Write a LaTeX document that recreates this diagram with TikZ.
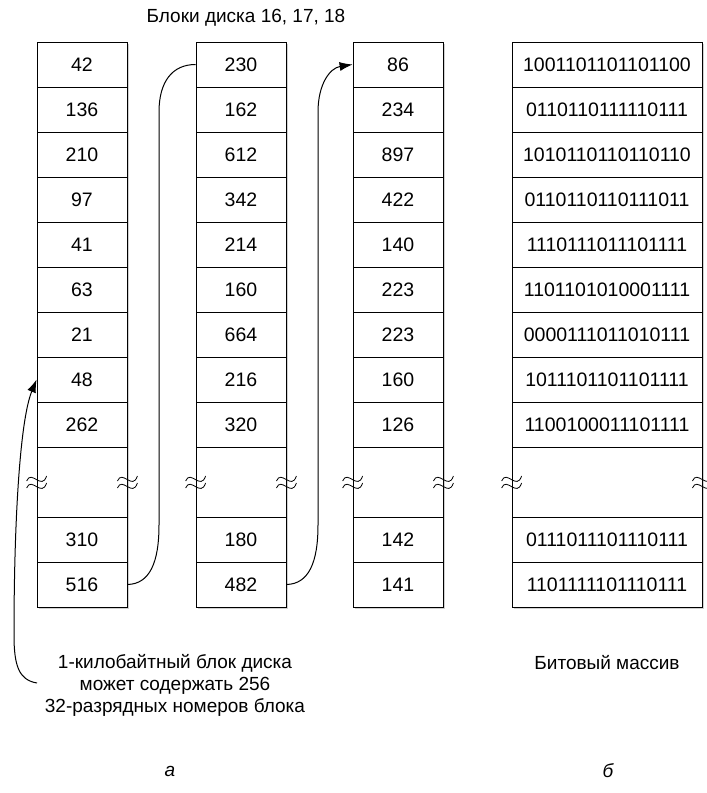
\documentclass[tikz,border=0pt]{standalone}
\usepackage{fontspec}
\setmainfont{Liberation Sans}
\usetikzlibrary{arrows.meta,shadows}
\begin{document}
\begin{tikzpicture}[x=1pt,y=-1pt,
  txt/.style={inner sep=0pt, font=\fontsize{19}{22}\selectfont},
  cell/.style={draw, line width=0.8pt, minimum height=45pt, inner sep=0pt, fill=white,
    font=\fontsize{19.5}{22}\selectfont,
    drop shadow={shadow xshift=1.5pt, shadow yshift=-1.5pt, fill=black!18, opacity=1}},
  conn/.style={line width=1pt},
  tip/.style={-{Latex[length=13pt,width=9pt]}},
  brk/.pic={
    \draw[line width=0.8pt] (-10,-1) .. controls (-5,-13) and (5,9) .. (10,-6);
    \draw[line width=0.8pt] (-10,6) .. controls (-5,-6) and (5,16) .. (10,1);
  }]
\useasboundingbox (0,0) rectangle (707,793);
\fill[white] (0,0) rectangle (707,793);

% column a
\foreach \v [count=\i] in {42,136,210,97,41,63,21,48,262}
  \node[cell, minimum width=90pt] (a\i) at (82,{19.5+45*\i}) {\v};
\node[cell, minimum width=90pt, minimum height=70pt] (ag) at (82,482) {};
\node[cell, minimum width=90pt] (a10) at (82,539.5) {310};
\node[cell, minimum width=90pt] (a11) at (82,584.5) {516};

% column b
\foreach \v [count=\i] in {230,162,612,342,214,160,664,216,320}
  \node[cell, minimum width=90pt] (b\i) at (241,{19.5+45*\i}) {\v};
\node[cell, minimum width=90pt, minimum height=70pt] (bg) at (241,482) {};
\node[cell, minimum width=90pt] (b10) at (241,539.5) {180};
\node[cell, minimum width=90pt] (b11) at (241,584.5) {482};

% column c
\foreach \v [count=\i] in {86,234,897,422,140,223,223,160,126}
  \node[cell, minimum width=90pt] (c\i) at (398,{19.5+45*\i}) {\v};
\node[cell, minimum width=90pt, minimum height=70pt] (cg) at (398,482) {};
\node[cell, minimum width=90pt] (c10) at (398,539.5) {142};
\node[cell, minimum width=90pt] (c11) at (398,584.5) {141};

% column d (bitmap)
\foreach \v [count=\i] in {1001101101101100,0110110111110111,1010110110110110,0110110110111011,1110111011101111,1101101010001111,0000111011010111,1011101101101111,1100100011101111}
  \node[cell, minimum width=190pt] (d\i) at (607,{19.5+45*\i}) {\v};
\node[cell, minimum width=190pt, minimum height=70pt] (dg) at (607,482) {};
\node[cell, minimum width=190pt] (d10) at (607,539.5) {0111011101110111};
\node[cell, minimum width=190pt] (d11) at (607,584.5) {1101111101110111};

% break marks
\foreach \g in {ag,bg,cg,dg} {
  \pic at (\g.west) {brk};
  \pic at (\g.east) {brk};
}

% connectors
\draw[conn] (a11.east) .. controls (150,584) and (159,562) .. (159,525)
  -- (159,112) .. controls (159,82) and (172,64.5) .. (b1.west);
\draw[conn, tip] (b11.east) .. controls (309,584) and (318,562) .. (318,525)
  -- (318,112) .. controls (318,84) and (330,68) .. (c1.west);
\coordinate (nstart) at (37,683);
\draw[conn, tip] (nstart) .. controls (19,680) and (14,666) .. (14,635)
  .. controls (14,520) and (20,420) .. (a8.west);

% texts
\node[txt] (title) at (246,18) {Блоки диска 16, 17, 18};
\node[txt, align=center] (note) at (175,685) {1-килобайтный блок диска\\может содержать 256\\32-разрядных номеров блока};
\node[txt] (bitlabel) at (607,663) {Битовый массив};
\node[txt, font=\fontsize{19}{22}\selectfont\itshape] (la) at (170,771) {а};
\node[txt, font=\fontsize{19}{22}\selectfont\itshape] (lb) at (608,771) {б};
\end{tikzpicture}
\end{document}
